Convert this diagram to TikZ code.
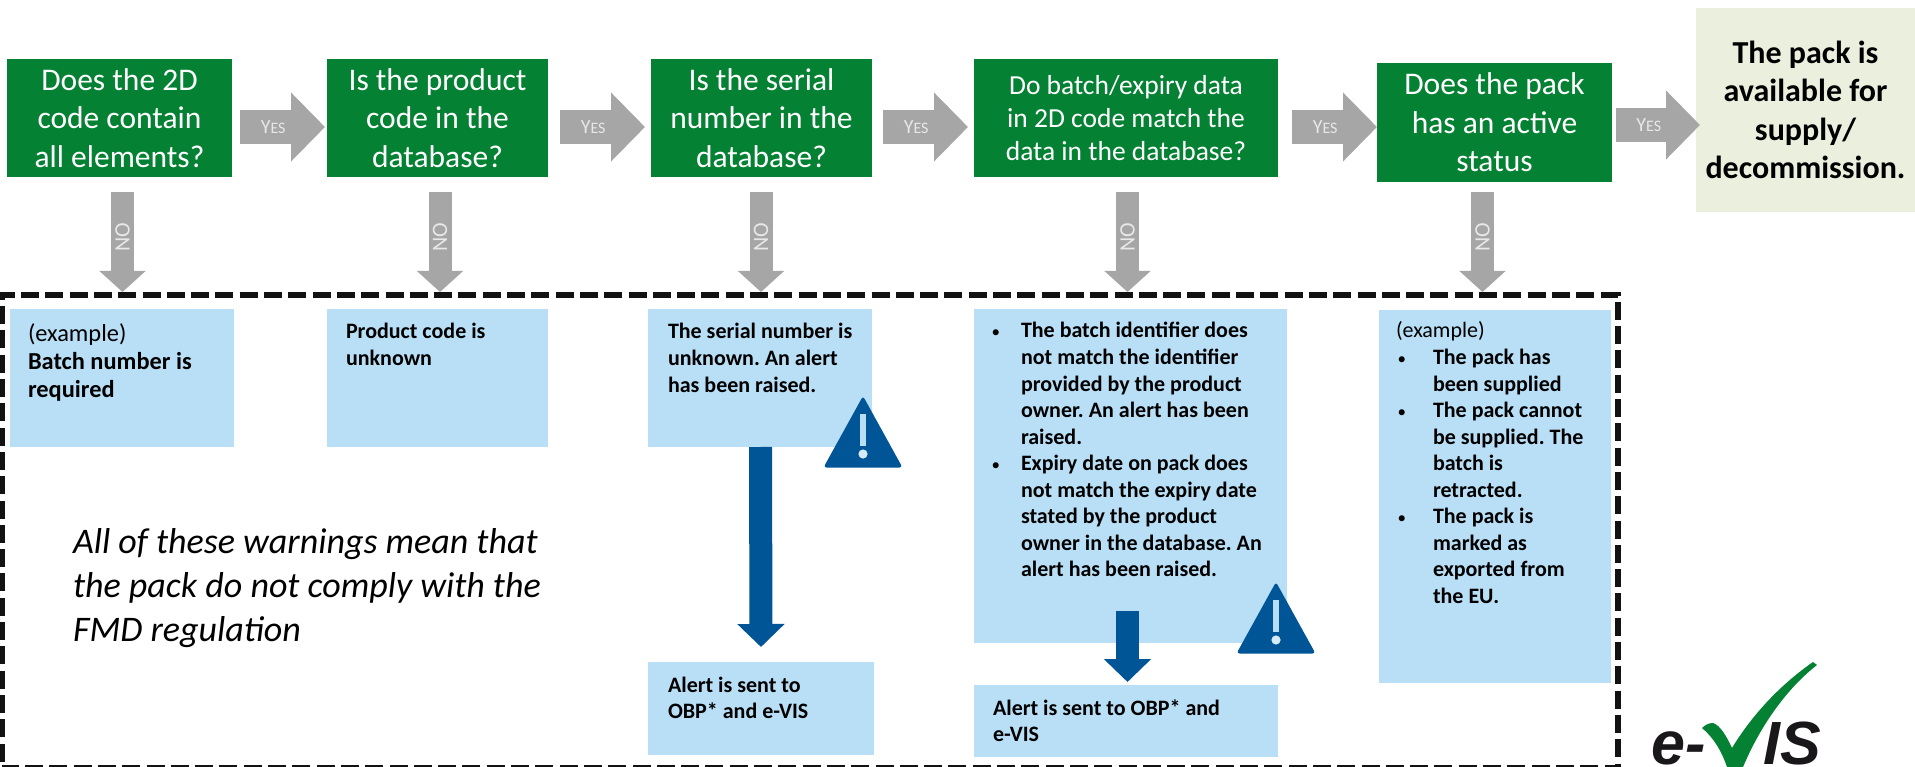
\documentclass[tikz,border=0pt]{standalone}
\usepackage{fontspec}
\setmainfont{Carlito}
\newfontfamily\logofont{Liberation Sans}
\usetikzlibrary{arrows.meta}
\frenchspacing
\definecolor{qgreen}{HTML}{058133}
\definecolor{rblue}{HTML}{B8DFF6}
\definecolor{endgreen}{HTML}{EBF0DE}
\definecolor{arrowgray}{HTML}{A6A6A6}
\definecolor{alertblue}{HTML}{005596}
\definecolor{labelgray}{HTML}{E8E8E8}
\definecolor{logoblack}{HTML}{1A171B}
\newcommand{\ltext}[1]{\parbox[t]{600pt}{\frenchspacing\raggedright #1}}
\newcommand{\bulmark}{{\fontsize{17}{17}\selectfont\mdseries\textbullet}}
\newcommand{\bul}{\makebox[0pt][r]{\bulmark\hspace{21pt}}}
\newcommand{\bulb}{\makebox[0pt][r]{\bulmark\hspace{27pt}}}
\newcommand{\yeslabel}{{\fontsize{20}{20}\selectfont Y\fontsize{16}{16}\selectfont ES}}
\tikzset{
  qbox/.style={fill=qgreen,text=white,anchor=north west,inner sep=0pt,outer sep=0pt,align=center,font=\fontsize{31.5}{38.5}\selectfont},
  qsmall/.style={qbox,font=\fontsize{27.5}{33}\selectfont},
  endbox/.style={fill=endgreen,text=black,anchor=north west,inner sep=0pt,outer sep=0pt,align=center,font=\fontsize{32}{38.5}\selectfont\bfseries},
  rbox/.style={fill=rblue,anchor=north west,inner sep=0pt,outer sep=0pt},
  btext/.style={anchor=base west,inner sep=0pt,outer sep=0pt,font=\fontsize{22}{26.55}\selectfont},
  bigbtext/.style={btext,font=\fontsize{24.4}{27.7}\selectfont},
  notetext/.style={anchor=base west,inner sep=0pt,outer sep=0pt,font=\fontsize{36}{44}\selectfont\itshape},
  yesarrow/.style={draw=arrowgray,line width=34pt,-{Triangle[length=34pt,width=67pt,fill=arrowgray]}},
  noarrow/.style={draw=arrowgray,line width=23pt,-{Triangle[length=21pt,width=45pt,fill=arrowgray]}},
  alertarrow/.style={draw=alertblue,line width=23pt,-{Triangle[length=23pt,width=46pt,fill=alertblue]}},
  yeslab/.style={text=labelgray,inner sep=0pt},
  nolab/.style={text=labelgray,inner sep=0pt,rotate=90,font=\fontsize{22}{22}\selectfont},
  panel/.style={draw=black!93,line width=6pt,dash pattern=on 18pt off 6.3pt,dash phase=17.8pt},
  logotext/.style={anchor=base west,inner sep=0pt,text=logoblack,font=\logofont\fontsize{61}{61}\selectfont\bfseries\itshape},
  warnsign/.pic={
    \fill[alertblue,rounded corners=3pt] (0,-2) -- (39.5,69.5) -- (-39.5,69.5) -- cycle;
    \fill[rblue] (-3,16) rectangle (3,48);
    \fill[rblue!60!white] (0,56) circle (4.6);
  }
}
\begin{document}
\begin{tikzpicture}[x=1pt,y=-1pt]
\useasboundingbox (0,0) rectangle (1915,767);
\clip (0,0) rectangle (1915,767);
\fill[white] (0,0) rectangle (1915,767);

% dashed panel
\draw[panel] (1.5,768) -- (1.5,295) -- (1618,295) -- (1618,768) -- cycle;

% question boxes
\node[qbox,minimum width=225pt,minimum height=118pt] (q1) at (7,59) {Does the 2D\\code contain\\all elements?};
\node[qbox,minimum width=221pt,minimum height=118pt] (q2) at (327,59) {Is the product\\code in the\\database?};
\node[qbox,minimum width=221pt,minimum height=118pt] (q3) at (651,59) {Is the serial\\number in the\\database?};
\node[qsmall,minimum width=304pt,minimum height=118pt] (q4) at (974,59) {Do batch/expiry data\\in 2D code match the\\data in the database?};
\node[qbox,minimum width=235pt,minimum height=119pt] (q5) at (1377,63) {Does the pack\\has an active\\status};
\node[endbox,minimum width=219pt,minimum height=204pt] (done) at (1696,8) {The pack is\\available for\\supply/\\decommission.};

% result boxes
\node[rbox,minimum width=224pt,minimum height=138pt] (r1) at (10,309) {};
\node[rbox,minimum width=221pt,minimum height=138pt] (r2) at (327,309) {};
\node[rbox,minimum width=224pt,minimum height=138pt] (r3) at (648,309) {};
\node[rbox,minimum width=313pt,minimum height=334pt] (r4) at (974,309) {};
\node[rbox,minimum width=232pt,minimum height=373pt] (r5) at (1379,310) {};
\node[rbox,minimum width=226pt,minimum height=93pt] (a3) at (648,662) {};
\node[rbox,minimum width=304pt,minimum height=72pt] (a4) at (974,685) {};

% yes arrows
\draw[yesarrow] ([shift={(8,9)}]q1.east) -- node[yeslab,pos=.39] {\yeslabel} ([shift={(-2,9)}]q2.west);
\draw[yesarrow] ([shift={(12,9)}]q2.east) -- node[yeslab,pos=.39] {\yeslabel} ([shift={(-6,9)}]q3.west);
\draw[yesarrow] ([shift={(11,9)}]q3.east) -- node[yeslab,pos=.39] {\yeslabel} ([shift={(-6,9)}]q4.west);
\draw[yesarrow] ([shift={(14,9)}]q4.east) -- node[yeslab,pos=.39] {\yeslabel} ([shift={(0,4.5)}]q5.west);
\draw[yesarrow] ([shift={(4,2.5)}]q5.east) -- node[yeslab,pos=.39] {\yeslabel} ([shift={(4,15)}]done.west);

% no arrows
\draw[noarrow] ([shift={(3,15)}]q1.south) -- node[nolab,pos=.45] {NO} ([shift={(0.5,-17)}]r1.north);
\draw[noarrow] ([shift={(2.5,15)}]q2.south) -- node[nolab,pos=.45] {NO} ([shift={(2.5,-17)}]r2.north);
\draw[noarrow] ([shift={(-0.5,15)}]q3.south) -- node[nolab,pos=.45] {NO} ([shift={(1,-17)}]r3.north);
\draw[noarrow] ([shift={(1.5,15)}]q4.south) -- node[nolab,pos=.45] {NO} ([shift={(-3,-17)}]r4.north);
\draw[noarrow] ([shift={(-12,10)}]q5.south) -- node[nolab,pos=.45] {NO} ([shift={(-12.5,-18)}]r5.north);

% alert arrows
\draw[alertarrow] ([shift={(0.5,0)}]r3.south) -- ([shift={(0,-15)}]a3.north);
\draw[alertarrow] ([shift={(-3,-32)}]r4.south) -- ([shift={(1.5,-3)}]a4.north);

% warning signs
\pic at (863,398) {warnsign};
\pic at (1276,584) {warnsign};

% texts
\node[bigbtext] (t1) at (28,342) {\ltext{(example)\\\textbf{Batch number is\\required}}};
\node[btext] (t2) at (346,339) {\ltext{\textbf{Product code is\\unknown}}};
\node[btext] (t3) at (668,339) {\ltext{\textbf{The serial number is\\unknown. An alert\\has been raised.}}};
\node[btext] (t4) at (1021,338) {\ltext{\bfseries\bul The batch identifier does\\not match the identifier\\provided by the product\\owner. An alert has been\\raised.\\\bul Expiry date on pack does\\not match the expiry date\\stated by the product\\owner in the database. An\\alert has been raised.}};
\node[btext] (t5) at (1396,338) {\ltext{(example)\\\hspace{37pt}\bulb\textbf{The pack has}\\\hspace{37pt}\textbf{been supplied}\\\hspace{37pt}\bulb\textbf{The pack cannot}\\\hspace{37pt}\textbf{be supplied. The}\\\hspace{37pt}\textbf{batch is}\\\hspace{37pt}\textbf{retracted.}\\\hspace{37pt}\bulb\textbf{The pack is}\\\hspace{37pt}\textbf{marked as}\\\hspace{37pt}\textbf{exported from}\\\hspace{37pt}\textbf{the EU.}}};
\node[btext] (t6) at (668,692) {\ltext{\textbf{Alert is sent to\\OBP* and e-VIS}}};
\node[btext] (t7) at (993,715) {\ltext{\textbf{Alert is sent to OBP* and\\e-VIS}}};
\node[notetext] (note) at (73,553) {\ltext{All of these warnings mean that\\the pack do not comply with the\\FMD regulation}};

% logo
\node[logotext] (loge) at (1651,764) {e-};
\node[logotext] (logis) at (1763,764) {IS};
\fill[qgreen] (1702,728) .. controls (1706,724) and (1710,723) .. (1713,723)
  .. controls (1720,725) and (1727,737) .. (1732,748)
  .. controls (1752,715) and (1780,685) .. (1813,662) -- (1817,665)
  .. controls (1795,682) and (1765,715) .. (1743,767) -- (1727,767)
  .. controls (1722,752) and (1714,738) .. (1702,728) -- cycle;
\end{tikzpicture}
\end{document}
